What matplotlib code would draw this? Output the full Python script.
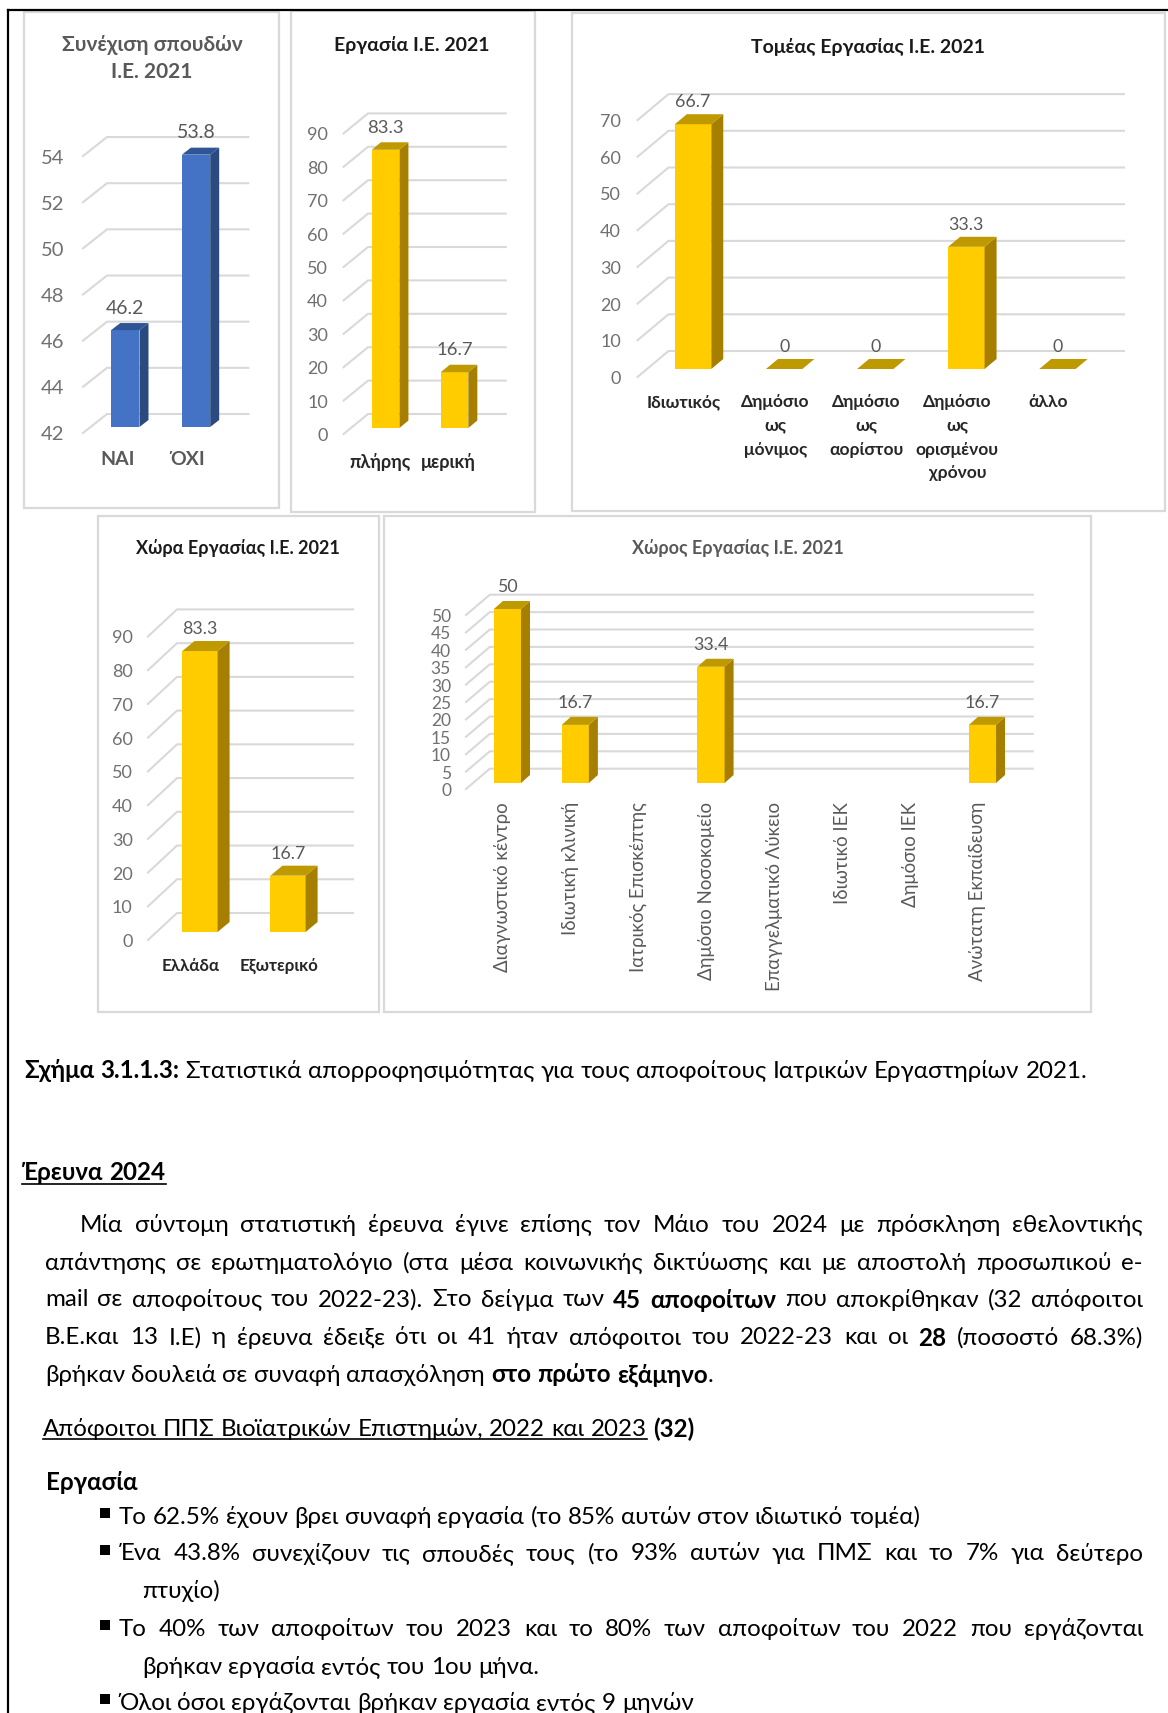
import matplotlib
matplotlib.use('Agg')
import numpy as np
import matplotlib.pyplot as plt
from matplotlib.patches import Polygon, Rectangle
from matplotlib.transforms import Affine2D

plt.rcParams['font.family'] = ['Lato', 'Noto Sans', 'DejaVu Sans']

W, H = 1168, 1713

# chart data
studies_cats = ['ΝΑΙ', 'ΌΧΙ']
studies_vals = [46.2, 53.8]
studies_ticks = [42, 44, 46, 48, 50, 52, 54]

work_cats = ['πλήρης', 'μερική']
work_vals = [83.3, 16.7]
work_ticks = [0, 10, 20, 30, 40, 50, 60, 70, 80, 90]

sector_cats = ['Ιδιωτικός', 'Δημόσιο\nως\nμόνιμος', 'Δημόσιο\nως\nαορίστου',
               'Δημόσιο\nως\nορισμένου\nχρόνου', 'άλλο']
sector_vals = [66.7, 0, 0, 33.3, 0]
sector_ticks = [0, 10, 20, 30, 40, 50, 60, 70]

country_cats = ['Ελλάδα', 'Εξωτερικό']
country_vals = [83.3, 16.7]
country_ticks = [0, 10, 20, 30, 40, 50, 60, 70, 80, 90]

place_cats = ['Διαγνωστικό κέντρο', 'Ιδιωτική κλινική', 'Ιατρικός Επισκέπτης',
              'Δημόσιο Νοσοκομείο', 'Επαγγελματικό Λύκειο', 'Ιδιωτικό ΙΕΚ',
              'Δημόσιο ΙΕΚ', 'Ανώτατη Εκπαίδευση']
place_vals = [50, 16.7, np.nan, 33.4, np.nan, np.nan, np.nan, 16.7]
place_ticks = [0, 5, 10, 15, 20, 25, 30, 35, 40, 45, 50]

GOLD = ('#FFCC00', '#A67F00', '#BF9900')
BLUE = ('#4472C4', '#2A4A80', '#2F5597')
GRID = '#D9D9D9'

fig = plt.figure(figsize=(W / 100, H / 100), dpi=100, facecolor='white')
bg = fig.add_axes([0, 0, 1, 1])
bg.set_xlim(0, W)
bg.set_ylim(H, 0)
bg.axis('off')


def frame(x0, y0, x1, y1):
    bg.add_patch(Rectangle((x0, y0), x1 - x0, y1 - y0, fill=False, ec=GRID, lw=1.6))


def chart(cats, vals, ticks, left, right, floor, scale, front, back, depth, tick_right,
          label_dx, label_pad, colors=GOLD, tick_fs=13, cat_fs=12, cat_color='#262626',
          cat_weight='bold', rotation=0, val_fs=12.8):
    ymin, ymax = ticks[0], ticks[-1]
    hpx = (ymax - ymin) * scale
    ax = fig.add_axes([left / W, 1 - floor / H, (right - left) / W, hpx / H])
    ax.patch.set_visible(False)
    for s in ax.spines.values():
        s.set_visible(False)
    n = len(cats)
    ax.set_xlim(-0.5, n - 0.5)
    ax.set_ylim(ymin, ymax)
    ux = n / (right - left)
    uy = (ymax - ymin) / hpx

    # floor/wall grid
    for t in ticks:
        ax.plot([-0.5 + front[0] * ux, -0.5 + back[0] * ux, n - 0.5 + back[0] * ux],
                [t - front[1] * uy, t + back[1] * uy, t + back[1] * uy],
                color=GRID, lw=1.5, clip_on=False, zorder=1)

    x = np.arange(n)
    bw = 0.4
    for xi, v in zip(x, vals):
        if np.isnan(v):
            continue
        ax.bar(xi, v - ymin, bottom=ymin, width=bw, color=colors[0], zorder=3)
        dx, dy = depth[0] * ux, depth[1] * uy
        x0, x1 = xi - bw / 2, xi + bw / 2
        if v > ymin:
            ax.add_patch(Polygon([(x1, ymin), (x1 + dx, ymin + dy), (x1 + dx, v + dy), (x1, v)],
                                 fc=colors[1], ec='none', clip_on=False, zorder=3))
        ax.add_patch(Polygon([(x0, v), (x1, v), (x1 + dx, v + dy), (x0 + dx, v + dy)],
                             fc=colors[2], ec='none', clip_on=False, zorder=3))
        ax.annotate(f'{v:g}', (xi, v), xytext=(0, 22 * 0.72), textcoords='offset points',
                    ha='center', va='center', fontsize=val_fs, color='#595959', zorder=4)

    ax.set_yticks(ticks)
    ax.set_xticks(x)
    ax.set_xticklabels(cats)
    ax.tick_params(axis='y', length=0, pad=(left - tick_right) * 0.72, labelsize=tick_fs,
                   labelcolor='#707070')
    ax.tick_params(axis='x', length=0, pad=label_pad * 0.72, labelsize=cat_fs,
                   labelcolor=cat_color, rotation=rotation)
    for lab in ax.get_yticklabels():
        lab.set_transform(lab.get_transform() + Affine2D().translate(0, -(front[1] + 0.5)))
    for lab in ax.get_xticklabels():
        lab.set_transform(lab.get_transform() + Affine2D().translate(label_dx, 0))
        lab.set_fontweight(cat_weight)
        lab.set_linespacing(1.6)
    return ax


# page border
bg.plot([8, 8], [10, H], color='black', lw=1.6)
bg.plot([8, W], [10, 10], color='black', lw=1.6)

frame(24, 12, 279, 508)
frame(291, 11, 535, 512)
frame(572, 13, 1165, 511)
frame(98, 516, 379, 1012)
frame(384, 516, 1091, 1012)

chart(studies_cats, studies_vals, studies_ticks, 90, 231.4, 427, 23.08, (-7, 6), (17, 13), (9, 7),
      64, -8, 24, colors=BLUE, tick_fs=14.5, cat_fs=14, cat_color='#595959', val_fs=14)
chart(work_cats, work_vals, work_ticks, 351.2, 489, 428, 3.34, (-7.6, 6), (16.8, 14), (9, 7.5),
      328, -6, 25, cat_fs=13, val_fs=13.3)
chart(sector_cats, sector_vals, sector_ticks, 647.5, 1103, 369, 3.67, (-10, 8), (21, 18), (12, 10),
      621, -9, 25, tick_fs=13, cat_fs=12.5)
chart(country_cats, country_vals, country_ticks, 156, 332, 932, 3.373, (-8, 8), (21, 19), (12, 10),
      132.7, -9, 26, cat_fs=12.2)
chart(place_cats, place_vals, place_ticks, 473.5, 1016.4, 783, 3.48, (-7.5, 6), (16.3, 14.3), (9, 8),
      451, -4.5, 19, tick_fs=12.5, cat_fs=13.4, cat_color='#595959', cat_weight='normal', rotation=90)

title_kw = dict(ha='center', va='center', fontweight='bold')
bg.text(152, 45, 'Συνέχιση σπουδών', color='#595959', fontsize=15, **title_kw)
bg.text(152, 72, 'Ι.Ε. 2021', color='#595959', fontsize=15, **title_kw)
bg.text(412, 45, 'Εργασία Ι.Ε. 2021', color='#1a1a1a', fontsize=14, **title_kw)
bg.text(868, 47, 'Τομέας Εργασίας Ι.Ε. 2021', color='#1a1a1a', fontsize=14, **title_kw)
bg.text(238, 548, 'Χώρα Εργασίας Ι.Ε. 2021', color='#1a1a1a', fontsize=13, **title_kw)
bg.text(738, 548, 'Χώρος Εργασίας Ι.Ε. 2021', color='#595959', fontsize=13, **title_kw)

renderer = fig.canvas.get_renderer()
BODY = 17.4


def word_w(s, bold):
    t = bg.text(0, 0, s, fontsize=BODY, fontweight='bold' if bold else 'normal')
    w = t.get_window_extent(renderer).width
    t.remove()
    return w


SPACE = word_w('a a', False) - word_w('aa', False)


def line(x0, y, runs, x1=None):
    # runs: list of (text, bold); x1 set means justified
    words = []
    for s, b in runs:
        words += [(w, b) for w in s.split()]
    widths = [word_w(w, b) for w, b in words]
    gap = SPACE
    if x1 is not None and len(words) > 1:
        gap = (x1 - x0 - sum(widths)) / (len(words) - 1)
    x = x0
    for (w, b), wd in zip(words, widths):
        bg.text(x, y, w, fontsize=BODY, fontweight='bold' if b else 'normal', color='black',
                ha='left', va='center_baseline')
        x += wd + gap
    return x - gap


line(24, 1069, [('Σχήμα 3.1.1.3:', True),
                ('Στατιστικά απορροφησιμότητας για τους αποφοίτους Ιατρικών Εργαστηρίων 2021.', False)])

xe = line(22, 1171, [('Έρευνα 2024', True)])
bg.plot([22, xe], [1184, 1184], color='black', lw=1.2)

R = 1143
line(80, 1223, [('Μία σύντομη στατιστική έρευνα έγινε επίσης τον Μάιο του 2024 με πρόσκληση εθελοντικής', False)], R)
line(45, 1261, [('απάντησης σε ερωτηματολόγιο (στα μέσα κοινωνικής δικτύωσης και με αποστολή προσωπικού e-', False)], R)
line(45, 1298, [('mail σε αποφοίτους του 2022-23). Στο δείγμα των', False), ('45 αποφοίτων', True),
                ('που αποκρίθηκαν (32 απόφοιτοι', False)], R)
line(45, 1336, [('Β.Ε.και 13 Ι.Ε) η έρευνα έδειξε ότι οι 41 ήταν απόφοιτοι του 2022-23 και οι', False), ('28', True),
                ('(ποσοστό 68.3%)', False)], R)
xe = line(45, 1373, [('βρήκαν δουλειά σε συναφή απασχόληση', False), ('στο πρώτο εξάμηνο', True)])
bg.text(xe, 1373, '.', fontsize=BODY, va='center_baseline')

xe = line(43, 1427, [('Απόφοιτοι ΠΠΣ Βιοϊατρικών Επιστημών, 2022 και 2023', False)])
bg.plot([43, xe], [1439, 1439], color='black', lw=1.2)
line(xe + SPACE, 1427, [('(32)', True)])

line(46, 1480, [('Εργασία', True)])

for by in [1515, 1552, 1627, 1701]:
    bg.add_patch(Rectangle((100, by - 7), 10, 10, fc='black', ec='none'))
line(119, 1515, [('Το 62.5% έχουν βρει συναφή εργασία (το 85% αυτών στον ιδιωτικό τομέα)', False)])
line(119, 1552, [('Ένα 43.8% συνεχίζουν τις σπουδές τους (το 93% αυτών για ΠΜΣ και το 7% για δεύτερο', False)], R)
line(142, 1589, [('πτυχίο)', False)])
line(119, 1627, [('Το 40% των αποφοίτων του 2023 και το 80% των αποφοίτων του 2022 που εργάζονται', False)], R)
line(142, 1665, [('βρήκαν εργασία εντός του 1ου μήνα.', False)])
line(119, 1701, [('Όλοι όσοι εργάζονται βρήκαν εργασία εντός 9 μηνών', False)])

fig.savefig('out.png', dpi=100)
